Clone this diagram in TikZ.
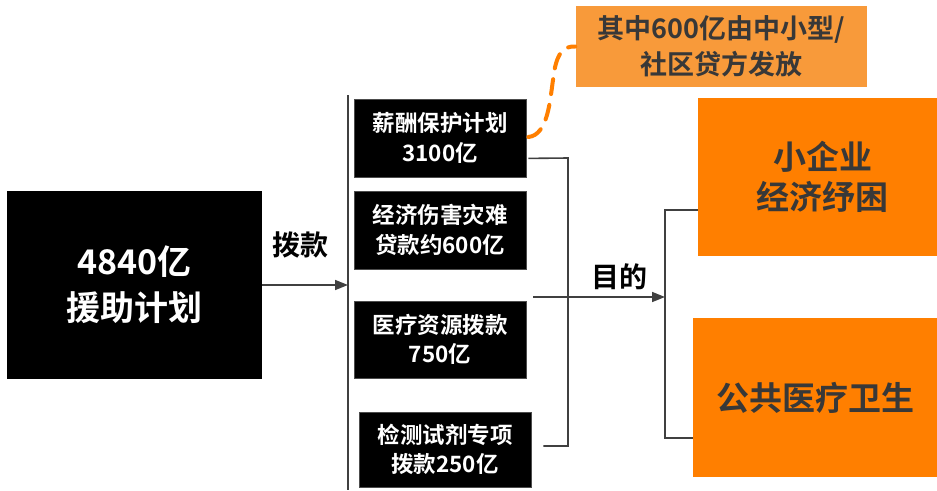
\documentclass[tikz,border=0pt]{standalone}
\usepackage{fontspec}
\newfontfamily\cjk{Noto Sans CJK SC}[BoldFont={Noto Sans CJK SC Bold}]
\usetikzlibrary{arrows.meta,calc}
\definecolor{linegray}{HTML}{404040}
\definecolor{txtgray}{HTML}{383838}
\definecolor{orangebox}{HTML}{FF7F00}
\definecolor{calloutorange}{HTML}{F89A3A}
\definecolor{dashorange}{HTML}{FF7F00}
\tikzset{
  blackbox/.style={fill=black, draw=black!70, line width=0.8pt, text=white, align=center, inner sep=0pt, font=\cjk\bfseries\fontsize{22.5}{29.5}\selectfont},
  bigbox/.style={fill=black, text=white, align=center, inner sep=0pt, font=\cjk\bfseries\fontsize{34}{46}\selectfont},
  orbox/.style={fill=orangebox, text=txtgray, align=center, inner sep=0pt, font=\cjk\bfseries\fontsize{33}{40}\selectfont},
  callbox/.style={fill=calloutorange, text=txtgray, align=center, inner sep=0pt, font=\cjk\bfseries\fontsize{27}{36}\selectfont},
  conn/.style={draw=linegray, line width=1.6pt},
  arr/.style={conn, -{Triangle[length=13pt,width=10pt]}},
  lbl/.style={text=black, inner sep=0pt, font=\cjk\bfseries\fontsize{28}{32}\selectfont},
  dashline/.style={draw=dashorange, line width=4pt, line cap=round, dash pattern=on 15pt off 11pt}
}
\begin{document}
\begin{tikzpicture}[x=1pt,y=-1pt]
\useasboundingbox (0,0) rectangle (937,490);
% main box
\node[bigbox, minimum width=255pt, minimum height=188pt] (big) at (134.5,285) {4840亿\\援助计划};
% four black boxes
\node[blackbox, minimum width=172pt, minimum height=78pt] (b1) at (440,138) {薪酬保护计划\\3100亿};
\node[blackbox, minimum width=172pt, minimum height=78pt] (b2) at (440,230) {经济伤害灾难\\贷款约600亿};
\node[blackbox, minimum width=172pt, minimum height=77pt] (b3) at (440,339.5) {医疗资源拨款\\750亿};
\node[blackbox, minimum width=172pt, minimum height=75pt] (b4) at (445,449.5) {检测试剂专项\\拨款250亿};
% orange boxes
\node[orbox, minimum width=239pt, minimum height=158pt, text width=239pt] (o1) at (817.5,177) {\hspace*{10pt}小企业\\\hspace*{10pt}经济纾困};
\node[orbox, minimum width=244pt, minimum height=159pt] (o2) at (815,397.5) {公共医疗卫生};
\node[callbox, minimum width=291pt, minimum height=81pt] (c1) at (721,46.5) {其中600亿由中小型/\\社区贷方发放};
% vertical spine
\coordinate (vtop) at (348,95);
\coordinate (vbot) at (348,490);
\coordinate (vmid) at (348,285);
\draw[conn] (vtop) -- (vbot);
\draw[arr] (big.east) -- (vmid);
\node[lbl] (lb1) at (300,245) {拨款};
% right bracket
\coordinate (rb1) at (568,158);
\coordinate (rb2) at (568,446);
\draw[conn] ([xshift=2pt,yshift=19pt]b1.south east) -- (rb1) -- (rb2) -- ([xshift=12pt,yshift=3.5pt]b4.east);
% middle arrow
\coordinate (mstart) at (533,297);
\coordinate (mend) at (665,297);
\draw[arr] (mstart) -- (mend);
\node[lbl] (lb2) at (619,277) {目的};
% goal bracket
\coordinate (g1) at (665,210);
\coordinate (g2) at (665,438);
\draw[conn] ([yshift=-33pt]o1.west) -- (g1) -- (g2) -- ([yshift=-40.5pt]o2.west);
% dashed callout connector
\draw[dashline] ([xshift=2pt,yshift=1pt]b1.east) .. controls (548,135) and (550,100) .. (553,80) .. controls (556,52) and (564,46) .. (c1.west);
\end{tikzpicture}
\end{document}
